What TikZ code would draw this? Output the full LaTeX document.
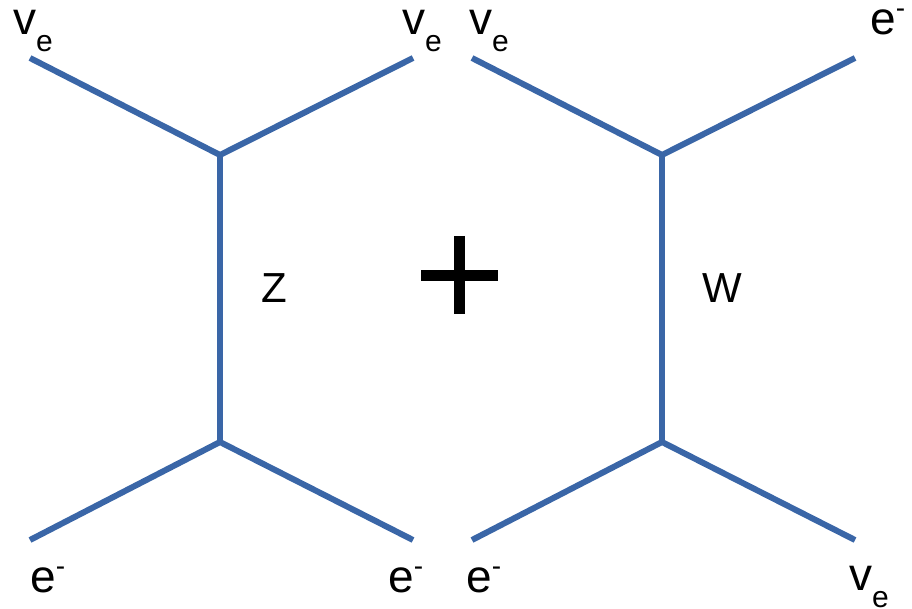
\documentclass[tikz,border=0pt]{standalone}
\usepackage{fontspec}
\setmainfont{Liberation Sans}
\definecolor{lineblue}{HTML}{3A66A7}
\newcommand{\lowe}{\raisebox{-17pt}{\fontsize{30}{30}\selectfont e}}
\newcommand{\himinus}{\raisebox{17pt}{\fontsize{28}{28}\selectfont -}}
\newcommand{\nue}{v\lowe}
\newcommand{\elec}{e\himinus}
\tikzset{
	prop/.style={line width=6pt, draw=lineblue},
	part/.style={inner sep=0pt, anchor=base west, font=\fontsize{46}{46}\selectfont},
	boson/.style={inner sep=0pt, anchor=base west, font=\fontsize{42}{42}\selectfont}
}
\begin{document}
\begin{tikzpicture}[x=1pt, y=-1pt]
		\useasboundingbox (0,0) rectangle (912,609);
		% Z exchange
		\coordinate (zt) at (220,155);
		\coordinate (zb) at (220,442);
		\coordinate (a1) at (30,58);
		\coordinate (a2) at (413,58);
		\coordinate (a3) at (30,540);
		\coordinate (a4) at (413,540);
		\draw[prop] (a1) -- (zt) -- (a2);
		\draw[prop] (zt) -- (zb);
		\draw[prop] (a3) -- (zb) -- (a4);
		% W exchange
		\coordinate (wt) at (662,155);
		\coordinate (wb) at (662,442);
		\coordinate (b1) at (472,58);
		\coordinate (b2) at (855,58);
		\coordinate (b3) at (472,540);
		\coordinate (b4) at (855,540);
		\draw[prop] (b1) -- (wt) -- (b2);
		\draw[prop] (wt) -- (wb);
		\draw[prop] (b3) -- (wb) -- (b4);
		% plus
		\draw[line width=11pt] (421,275.5) -- (498,275.5);
		\draw[line width=11pt] (459.5,236) -- (459.5,314);
		% labels
		\node[part] (la1) at (13,35) {\nue};
		\node[part] (la2) at (402,35) {\nue};
		\node[part] (lb1) at (469,35) {\nue};
		\node[part] (lb2) at (870,35) {\elec};
		\node[part] (la3) at (30,592) {\elec};
		\node[part] (la4) at (388,592) {\elec};
		\node[part] (lb3) at (466,592) {\elec};
		\node[part] (lb4) at (849,590) {\nue};
		\node[boson] (lz) at (261,303) {Z};
		\node[boson] (lw) at (702,303) {W};
	\end{tikzpicture}
\end{document}
